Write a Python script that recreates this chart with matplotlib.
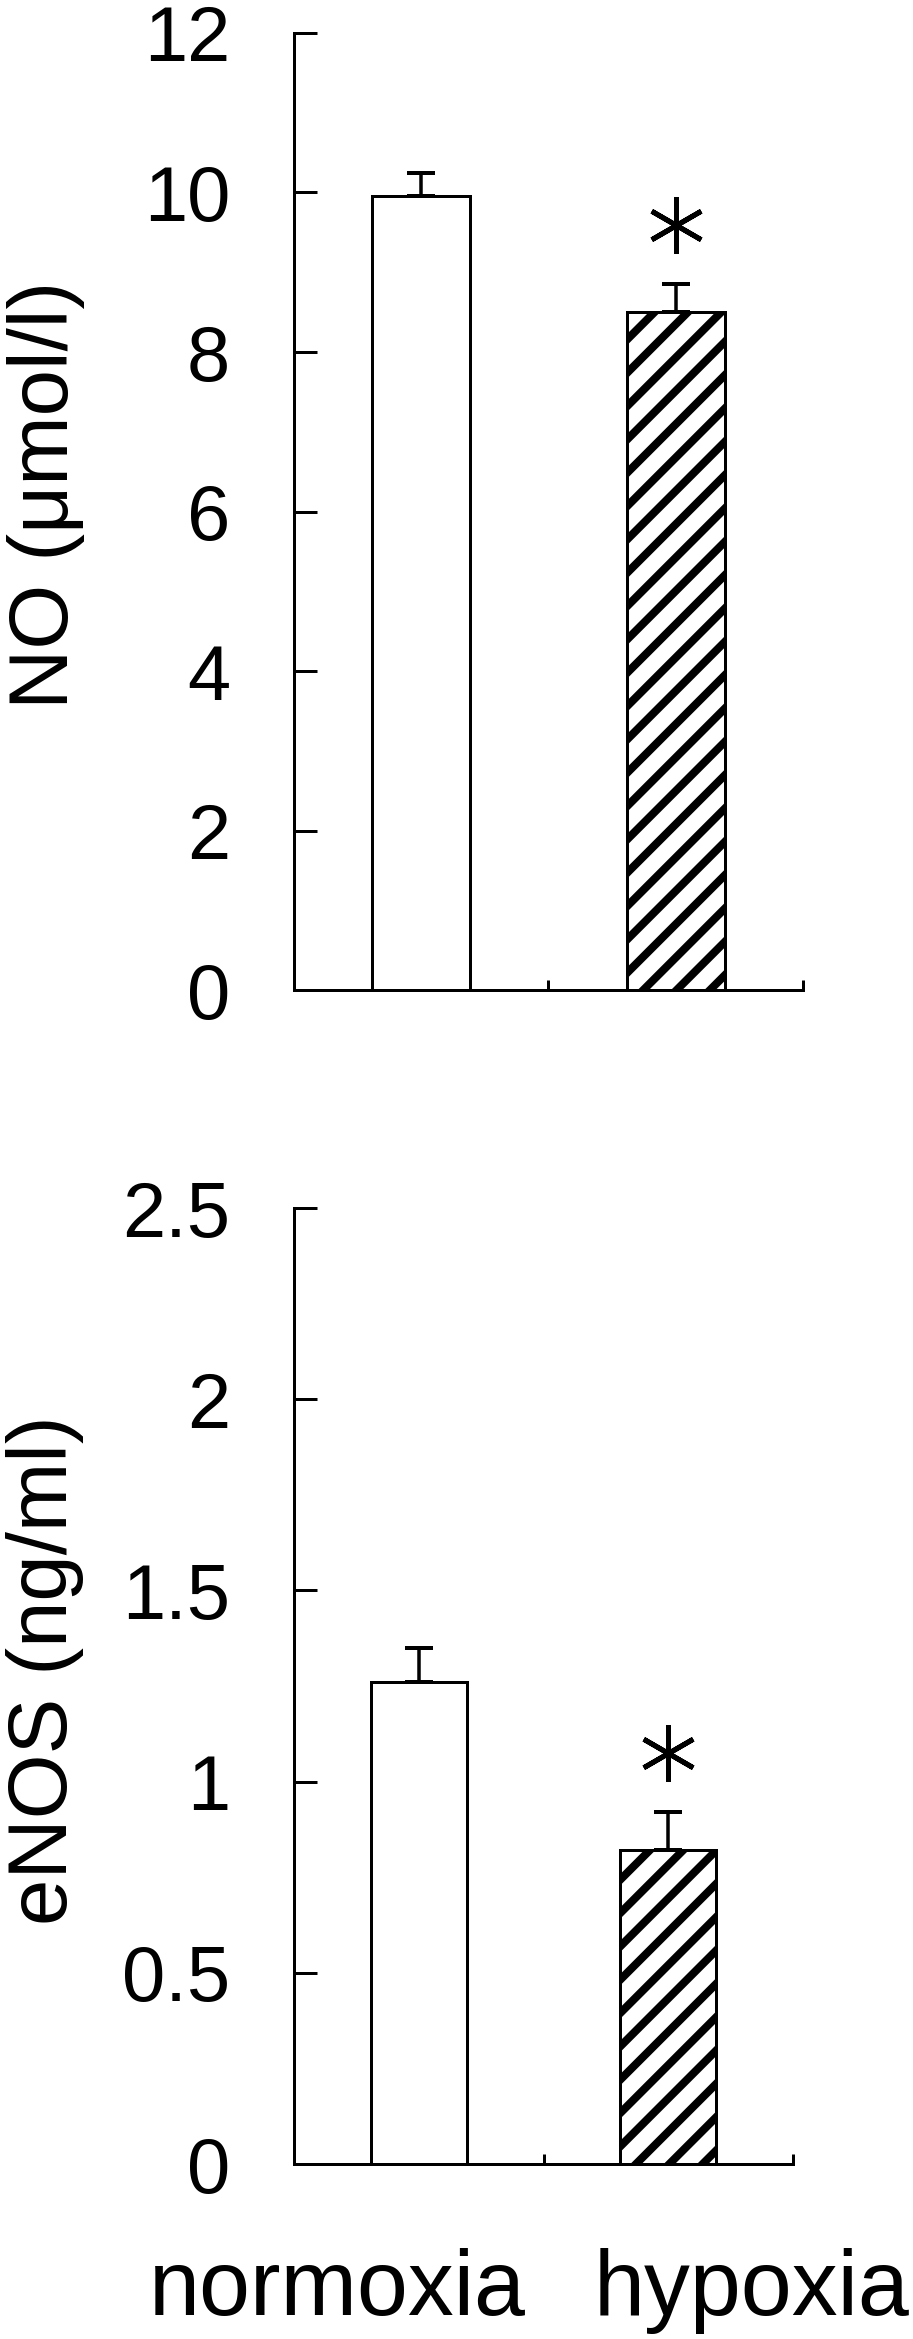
import numpy as np
import matplotlib
matplotlib.use("Agg")
import matplotlib.pyplot as plt

# ── data ──────────────────────────────────────────────────────────────────────
GROUPS = ["normoxia", "hypoxia"]
NO_MEAN = [9.95, 8.50]
NO_ERR = [0.30, 0.35]
ENOS_MEAN = [1.26, 0.82]
ENOS_ERR = [0.09, 0.10]
SIGNIF = [False, True]
NO_TICKS = [0, 2, 4, 6, 8, 10, 12]
NO_TICKLABELS = ["0", "2", "4", "6", "8", "10", "12"]
ENOS_TICKS = [0, 0.5, 1, 1.5, 2, 2.5]
ENOS_TICKLABELS = ["0", "0.5", "1", "1.5", "2", "2.5"]
HATCHES = [None, "//"]

DPI = 200
PX = 72 / DPI          # one output pixel in points

plt.rcParams["font.family"] = ["Liberation Sans", "DejaVu Sans"]
plt.rcParams["hatch.linewidth"] = 8 * PX
plt.rcParams["hatch.color"] = "black"

fig = plt.figure(figsize=(913 / DPI, 2339 / DPI), dpi=DPI)
ax_no = fig.add_axes([0.322, 0.5767, 0.5575, 0.4092])
ax_en = fig.add_axes([0.322, 0.0748, 0.5466, 0.4087])


def panel(ax, means, errs, ticks, ticklabels):
    x = np.arange(len(means))
    ymax = ticks[-1]
    for i in x:
        ax.bar(i, means[i], width=0.385, color="white", edgecolor="black",
               linewidth=3 * PX, hatch=HATCHES[i], zorder=2)
    ax.errorbar(x, means, yerr=[np.zeros(len(errs)), errs], fmt="none", ecolor="black",
                elinewidth=3.5 * PX, capsize=14 * PX, capthick=4 * PX, zorder=3)
    # significance asterisks just above the error caps
    sx = [xi for xi, s in zip(x, SIGNIF) if s]
    sy = [m + e + 0.062 * ymax for m, e, s in zip(means, errs, SIGNIF) if s]
    ax.plot(sx, sy, linestyle="none", marker=(6, 2, 0), ms=57 * PX, mew=5 * PX,
            color="black", zorder=4)

    ax.set_xlim(-0.5, 1.5)
    ax.set_ylim(0, ymax)
    ax.set_yticks(ticks)
    ax.set_yticklabels(ticklabels)
    ax.set_xticks([-0.5, 0.5, 1.5])
    ax.set_xticklabels([])
    ax.tick_params(axis="y", direction="in", length=23 * PX, width=3 * PX, pad=23,
                   labelsize=28, colors="black")
    ax.tick_params(axis="x", direction="in", length=10 * PX, width=3 * PX)
    for s in ("top", "right"):
        ax.spines[s].set_visible(False)
    for s in ("left", "bottom"):
        ax.spines[s].set_linewidth(3 * PX)
        ax.spines[s].set_color("black")


panel(ax_no, NO_MEAN, NO_ERR, NO_TICKS, NO_TICKLABELS)
panel(ax_en, ENOS_MEAN, ENOS_ERR, ENOS_TICKS, ENOS_TICKLABELS)

fig.text(0.050, 0.7884, "NO (\u03bcmol/l)", rotation=90, ha="center", va="center", fontsize=30)
fig.text(0.049, 0.286, "eNOS (ng/ml)", rotation=90, ha="center", va="center", fontsize=30)

fig.text(0.370, 0.0103, GROUPS[0], ha="center", va="baseline", fontsize=33)
fig.text(0.6506, 0.0103, GROUPS[1], ha="left", va="baseline", fontsize=33)

fig.savefig("out.png", dpi=DPI, facecolor="white")
